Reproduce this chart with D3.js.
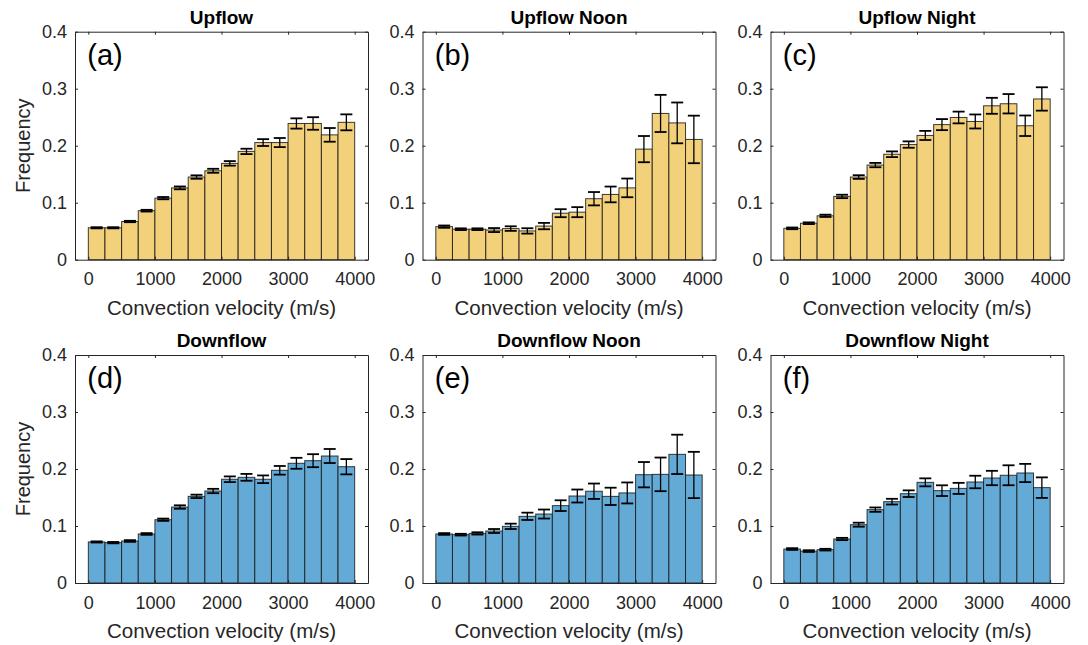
<!DOCTYPE html>
<html>
<head>
<meta charset="utf-8">
<script src="https://cdn.jsdelivr.net/npm/d3@7"></script>
<style>
  html, body { margin: 0; padding: 0; background: #fff; }
  svg { display: block; font-family: "Liberation Sans", Arial, Helvetica, sans-serif; }
</style>
</head>
<body>
<svg id="chart" width="1088" height="645"></svg>
<script>
// Histogram bin edges (m/s): 16 bins of 250 m/s from 0 to 4000
const binStarts = [0, 250, 500, 750, 1000, 1250, 1500, 1750, 2000, 2250, 2500, 2750, 3000, 3250, 3500, 3750];
const binWidth = 250;

const xTicks = [0, 1000, 2000, 3000, 4000];
const yTicks = [0, 0.1, 0.2, 0.3, 0.4];

const panelTitles = ["Upflow", "Upflow Noon", "Upflow Night", "Downflow", "Downflow Noon", "Downflow Night"];
const panelLetters = ["(a)", "(b)", "(c)", "(d)", "(e)", "(f)"];

// Frequency per bin
const upflow       = [0.056, 0.056, 0.067, 0.086, 0.108, 0.126, 0.145, 0.156, 0.169, 0.190, 0.2055, 0.2055, 0.239, 0.239, 0.219, 0.241];
const upflowNoon   = [0.058, 0.0535, 0.0535, 0.052, 0.0546, 0.0505, 0.059, 0.0816, 0.0834, 0.107, 0.1145, 0.126, 0.194, 0.2566, 0.240, 0.211];
const upflowNight  = [0.055, 0.064, 0.077, 0.111, 0.145, 0.166, 0.185, 0.202, 0.218, 0.237, 0.2495, 0.2425, 0.270, 0.2736, 0.235, 0.282];
const downflow      = [0.072, 0.0708, 0.0737, 0.086, 0.111, 0.1333, 0.152, 0.1614, 0.182, 0.1854, 0.182, 0.1977, 0.210, 0.2146, 0.2228, 0.204];
const downflowNoon  = [0.086, 0.0848, 0.087, 0.0912, 0.0994, 0.117, 0.121, 0.1357, 0.1526, 0.161, 0.152, 0.158, 0.190, 0.1906, 0.2257, 0.1895];
const downflowNight = [0.0596, 0.056, 0.0585, 0.0772, 0.1023, 0.1287, 0.1427, 0.1567, 0.1766, 0.162, 0.166, 0.1772, 0.1842, 0.189, 0.193, 0.1673];

// Half-length of each error bar
const upflowErr       = [0.001, 0.001, 0.0012, 0.0015, 0.002, 0.0025, 0.003, 0.0035, 0.004, 0.0047, 0.006, 0.008, 0.009, 0.011, 0.012, 0.014];
const upflowNoonErr   = [0.002, 0.0015, 0.0015, 0.0035, 0.004, 0.0047, 0.0056, 0.007, 0.0088, 0.0117, 0.0138, 0.0164, 0.023, 0.0326, 0.0358, 0.0417];
const upflowNightErr  = [0.0015, 0.0015, 0.002, 0.003, 0.0032, 0.0038, 0.005, 0.0056, 0.008, 0.0097, 0.0103, 0.0123, 0.014, 0.017, 0.018, 0.0205];
const downflowErr      = [0.001, 0.0012, 0.0015, 0.0015, 0.002, 0.003, 0.003, 0.0038, 0.005, 0.006, 0.0067, 0.0076, 0.0096, 0.0114, 0.0123, 0.0134];
const downflowNoonErr  = [0.0015, 0.0015, 0.002, 0.0035, 0.0047, 0.0064, 0.0079, 0.0094, 0.0114, 0.0135, 0.0152, 0.0184, 0.0222, 0.0295, 0.0345, 0.0406];
const downflowNightErr = [0.0015, 0.0015, 0.0015, 0.002, 0.0035, 0.0038, 0.005, 0.0058, 0.007, 0.0094, 0.0097, 0.011, 0.0126, 0.0175, 0.016, 0.018];

const seriesValues = [upflow, upflowNoon, upflowNight, downflow, downflowNoon, downflowNight];
const seriesErrors = [upflowErr, upflowNoonErr, upflowNightErr, downflowErr, downflowNoonErr, downflowNightErr];

const upColor = "#f3d07a";
const downColor = "#64aad7";
const axisColor = "#262626";

const svg = d3.select("#chart");

const colLeft = [75, 422.5, 770.5];
const rowTop = [31.7, 355];
const boxW = 293;
const boxH = 228;

seriesValues.forEach((vals, i) => {
  const row = Math.floor(i / 3), col = i % 3;
  const left = colLeft[col], top = rowTop[row];
  const fill = row === 0 ? upColor : downColor;
  const errs = seriesErrors[i];

  const x = d3.scaleLinear().domain([-200, 4200]).range([left, left + boxW]);
  const y = d3.scaleLinear().domain([0, 0.4]).range([top + boxH, top]);

  const g = svg.append("g");

  // Bars
  g.selectAll("rect.bar")
    .data(vals)
    .join("rect")
    .attr("class", "bar")
    .attr("x", (d, k) => x(binStarts[k]))
    .attr("width", (d, k) => x(binStarts[k] + binWidth) - x(binStarts[k]))
    .attr("y", d => y(d))
    .attr("height", d => y(0) - y(d))
    .attr("fill", fill)
    .attr("stroke", "#1a1a1a")
    .attr("stroke-opacity", 0.85)
    .attr("stroke-width", 1);

  // Error bars
  const capHalf = (x(binWidth) - x(0)) * 0.36;
  const eb = g.selectAll("g.err")
    .data(vals)
    .join("g")
    .attr("class", "err")
    .attr("stroke", "#000")
    .attr("stroke-width", 1.8);
  eb.append("line")
    .attr("x1", (d, k) => x(binStarts[k] + binWidth / 2))
    .attr("x2", (d, k) => x(binStarts[k] + binWidth / 2))
    .attr("y1", (d, k) => y(d - errs[k]))
    .attr("y2", (d, k) => y(d + errs[k]))
    .attr("stroke-width", 1.3);
  eb.append("line")
    .attr("x1", (d, k) => x(binStarts[k] + binWidth / 2) - capHalf)
    .attr("x2", (d, k) => x(binStarts[k] + binWidth / 2) + capHalf)
    .attr("y1", (d, k) => y(d + errs[k]))
    .attr("y2", (d, k) => y(d + errs[k]));
  eb.append("line")
    .attr("x1", (d, k) => x(binStarts[k] + binWidth / 2) - capHalf)
    .attr("x2", (d, k) => x(binStarts[k] + binWidth / 2) + capHalf)
    .attr("y1", (d, k) => y(d - errs[k]))
    .attr("y2", (d, k) => y(d - errs[k]));

  // Axes on all four sides, ticks pointing inward
  const tickLen = 3;
  const bottomAx = g.append("g").attr("transform", `translate(0,${y(0)})`)
    .call(d3.axisBottom(x).tickValues(xTicks).tickSizeInner(-tickLen).tickSizeOuter(0).tickPadding(13).tickFormat(d3.format("d")));
  const topAx = g.append("g").attr("transform", `translate(0,${y(0.4)})`)
    .call(d3.axisTop(x).tickValues(xTicks).tickSizeInner(-tickLen).tickSizeOuter(0).tickFormat(""));
  const leftAx = g.append("g").attr("transform", `translate(${x(-200)},0)`)
    .call(d3.axisLeft(y).tickValues(yTicks).tickSizeInner(-tickLen).tickSizeOuter(0).tickPadding(8).tickFormat(d => d === 0 ? "0" : d3.format(".1f")(d)));
  const rightAx = g.append("g").attr("transform", `translate(${x(4200)},0)`)
    .call(d3.axisRight(y).tickValues(yTicks).tickSizeInner(-tickLen).tickSizeOuter(0).tickFormat(""));

  [bottomAx, topAx, leftAx, rightAx].forEach(a => {
    a.select(".domain").attr("stroke", axisColor).attr("stroke-width", 1);
    a.selectAll(".tick line").attr("stroke", axisColor);
    a.selectAll("text").attr("fill", axisColor).style("font-size", "18px").style("font-family", null);
  });

  // Title
  g.append("text")
    .attr("x", (x(-200) + x(4200)) / 2)
    .attr("y", top - 8)
    .attr("text-anchor", "middle")
    .attr("font-weight", "bold")
    .attr("font-size", 19)
    .attr("fill", "#000")
    .text(panelTitles[i]);

  // Panel letter
  g.append("text")
    .attr("x", x(0) - 1)
    .attr("y", top + 33)
    .attr("font-size", 29)
    .attr("fill", "#000")
    .text(panelLetters[i]);

  // X axis label
  g.append("text")
    .attr("x", (x(-200) + x(4200)) / 2)
    .attr("y", top + boxH + 55)
    .attr("text-anchor", "middle")
    .attr("font-size", 20.5)
    .attr("fill", axisColor)
    .text("Convection velocity (m/s)");

  // Y axis label on the left column only
  if (col === 0) {
    g.append("text")
      .attr("transform", `translate(${left - 45},${top + boxH / 2}) rotate(-90)`)
      .attr("text-anchor", "middle")
      .attr("font-size", 20)
      .attr("fill", axisColor)
      .text("Frequency");
  }
});
</script>
</body>
</html>
